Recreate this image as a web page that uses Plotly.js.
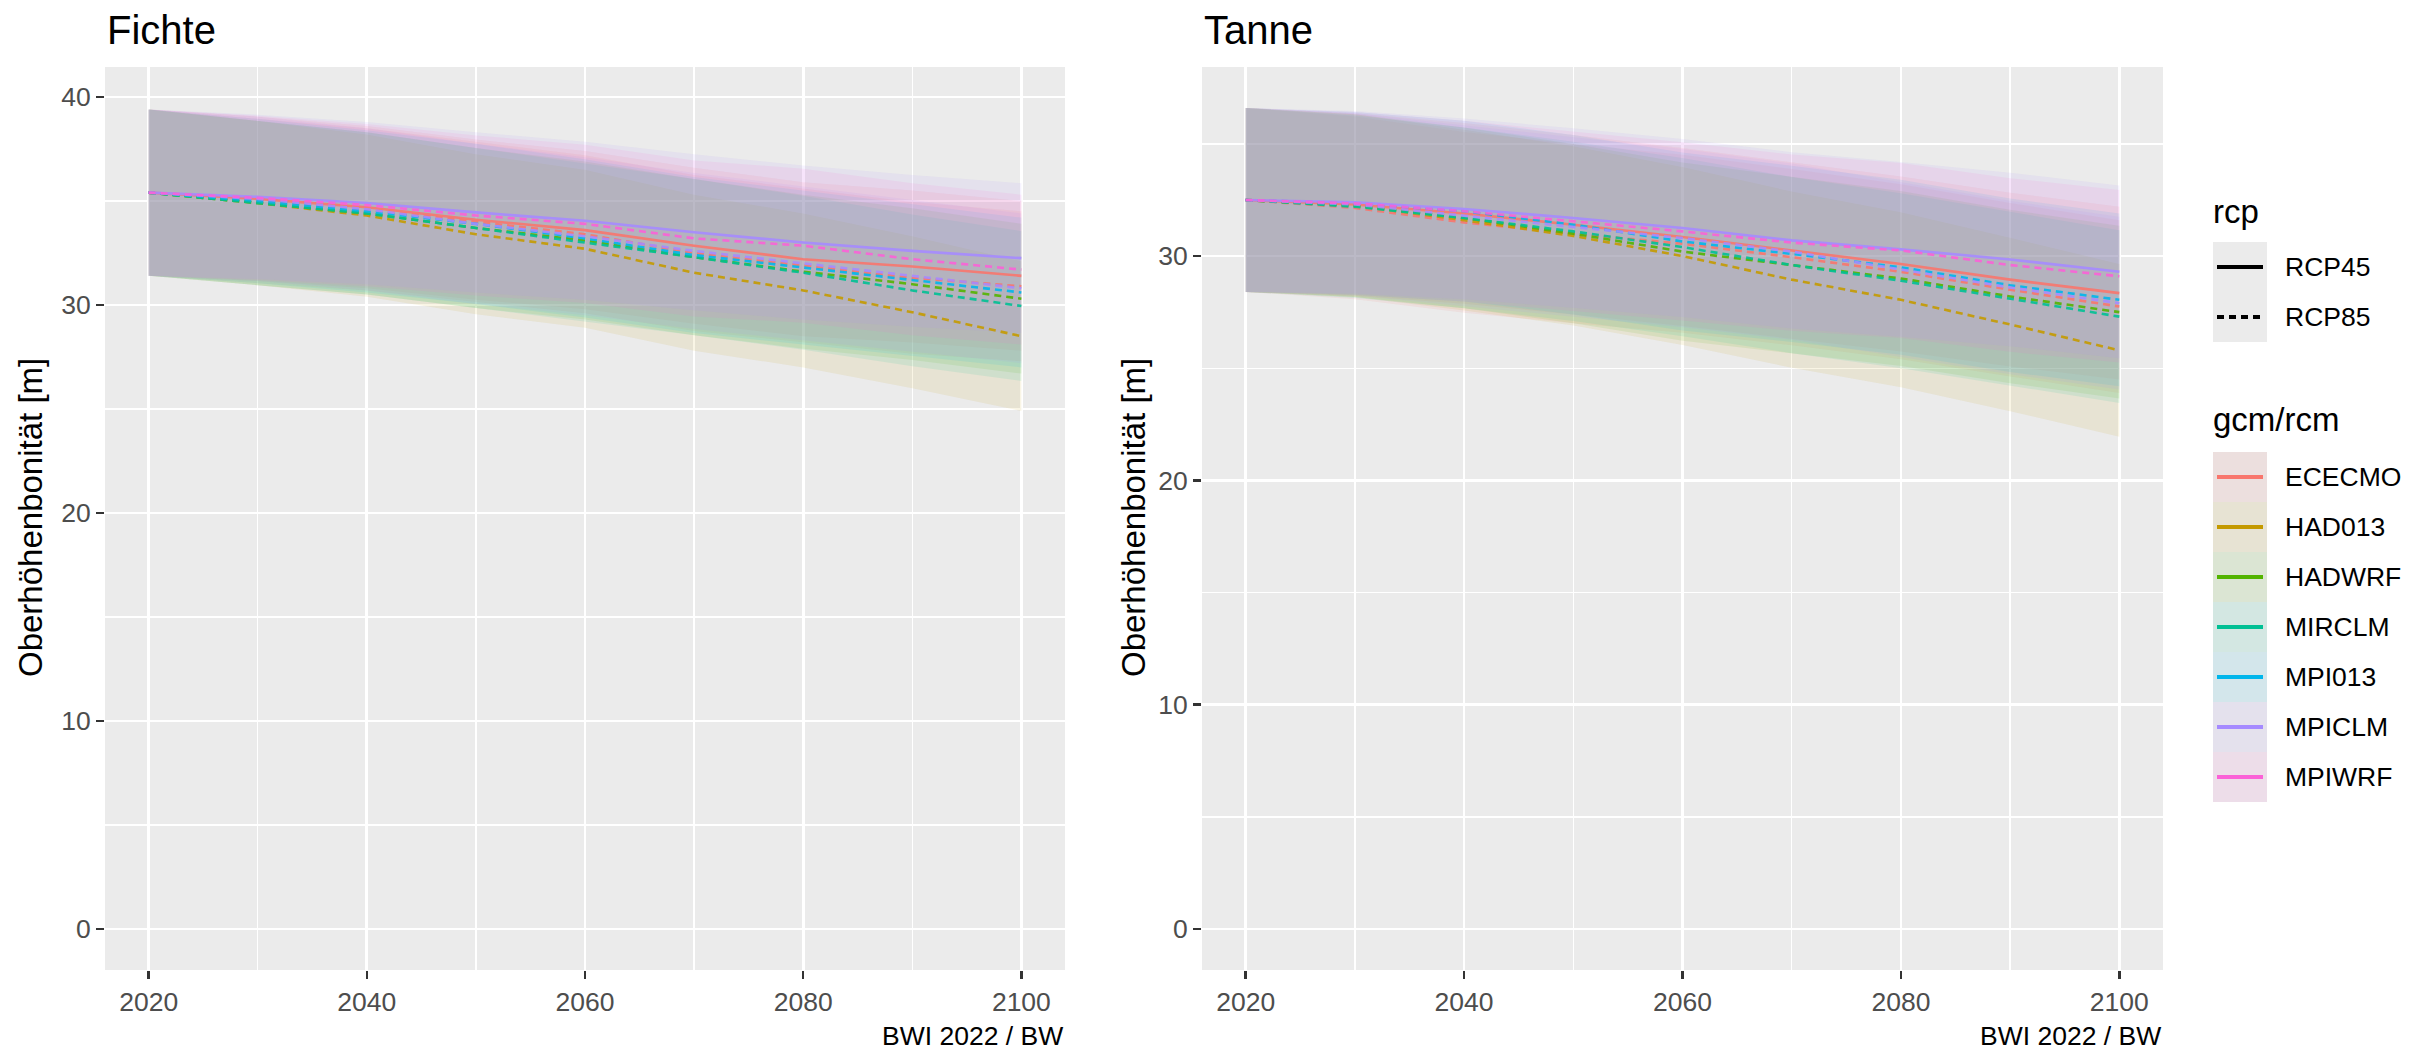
<!DOCTYPE html>
<html>
<head>
<meta charset="utf-8">
<script src="https://cdn.plot.ly/plotly-3.0.1.min.js"></script>
<style>html,body{margin:0;padding:0;background:#fff;}#chart{width:2420px;height:1052px;}</style>
</head>
<body>
<div id="chart"></div>
<script>
// ---------- DATA ----------
const years = [2020, 2030, 2040, 2050, 2060, 2070, 2080, 2090, 2100];
const panelTitles = ['Fichte', 'Tanne'];
const models = ['ECECMO', 'HAD013', 'HADWRF', 'MIRCLM', 'MPI013', 'MPICLM', 'MPIWRF'];
const modelColors = ['#F8766D', '#C49A00', '#53B400', '#00C094', '#00B6EB', '#A58AFF', '#FB61D7'];
const scenarios = ['RCP45', 'RCP85'];
const xTicks = [2020, 2040, 2060, 2080, 2100];
const yTicksFichte = [0, 10, 20, 30, 40];
const yTicksTanne = [0, 10, 20, 30];
const yTitle = 'Oberhöhenbonität [m]';
const caption = 'BWI 2022 / BW';

// Fichte
const fi_ECECMO_45_mean = [35.4, 35.1, 34.7, 34.1, 33.6, 32.85, 32.2, 31.85, 31.4];
const fi_ECECMO_45_hi   = [39.4, 39.05, 38.6, 37.95, 37.4, 36.6, 35.9, 35.5, 35.0];
const fi_ECECMO_45_lo   = [31.4, 31.15, 30.8, 30.25, 29.8, 29.1, 28.5, 28.2, 27.8];
const fi_ECECMO_85_mean = [35.4, 35.0, 34.6, 34.0, 33.4, 32.5, 31.9, 31.3, 30.9];
const fi_ECECMO_85_hi   = [39.4, 38.95, 38.5, 37.85, 37.2, 36.25, 35.6, 34.95, 34.5];
const fi_ECECMO_85_lo   = [31.4, 31.05, 30.7, 30.15, 29.6, 28.75, 28.2, 27.65, 27.3];
const fi_HAD013_85_mean = [35.4, 34.9, 34.3, 33.4, 32.7, 31.55, 30.7, 29.65, 28.5];
const fi_HAD013_85_hi   = [39.4, 38.85, 38.2, 37.25, 36.5, 35.3, 34.4, 33.3, 32.1];
const fi_HAD013_85_lo   = [31.4, 30.95, 30.4, 29.55, 28.9, 27.8, 27.0, 26.0, 24.9];
const fi_HADWRF_85_mean = [35.4, 34.9, 34.4, 33.7, 33.1, 32.3, 31.6, 31.0, 30.3];
const fi_HADWRF_85_hi   = [39.4, 38.85, 38.3, 37.55, 36.9, 36.05, 35.3, 34.65, 33.9];
const fi_HADWRF_85_lo   = [31.4, 30.95, 30.5, 29.85, 29.3, 28.55, 27.9, 27.35, 26.7];
const fi_MIRCLM_85_mean = [35.4, 34.9, 34.4, 33.7, 33.0, 32.3, 31.55, 30.7, 29.95];
const fi_MIRCLM_85_hi   = [39.4, 38.85, 38.3, 37.55, 36.8, 36.05, 35.25, 34.35, 33.55];
const fi_MIRCLM_85_lo   = [31.4, 30.95, 30.5, 29.85, 29.2, 28.55, 27.85, 27.05, 26.35];
const fi_MPI013_85_mean = [35.4, 35.0, 34.5, 33.9, 33.2, 32.4, 31.8, 31.2, 30.6];
const fi_MPI013_85_hi   = [39.4, 38.95, 38.4, 37.75, 37.0, 36.15, 35.5, 34.85, 34.2];
const fi_MPI013_85_lo   = [31.4, 31.05, 30.6, 30.05, 29.4, 28.65, 28.1, 27.55, 27.0];
const fi_MPICLM_45_mean = [35.4, 35.2, 34.9, 34.45, 34.05, 33.5, 33.0, 32.6, 32.25];
const fi_MPICLM_45_hi   = [39.4, 39.15, 38.8, 38.3, 37.85, 37.25, 36.7, 36.25, 35.85];
const fi_MPICLM_45_lo   = [31.4, 31.25, 31.0, 30.6, 30.25, 29.75, 29.3, 28.95, 28.65];
const fi_MPICLM_85_mean = [35.4, 35.1, 34.6, 33.9, 33.3, 32.6, 32.0, 31.4, 30.8];
const fi_MPICLM_85_hi   = [39.4, 39.05, 38.5, 37.75, 37.1, 36.35, 35.7, 35.05, 34.4];
const fi_MPICLM_85_lo   = [31.4, 31.15, 30.7, 30.05, 29.5, 28.85, 28.3, 27.75, 27.2];
const fi_MPIWRF_85_mean = [35.4, 35.15, 34.8, 34.3, 33.9, 33.2, 32.85, 32.2, 31.7];
const fi_MPIWRF_85_hi   = [39.4, 39.1, 38.7, 38.15, 37.7, 36.95, 36.55, 35.85, 35.3];
const fi_MPIWRF_85_lo   = [31.4, 31.2, 30.9, 30.45, 30.1, 29.45, 29.15, 28.55, 28.1];

// Tanne
const ta_ECECMO_45_mean = [32.5, 32.3, 31.9, 31.4, 30.85, 30.25, 29.65, 28.95, 28.35];
const ta_ECECMO_45_hi   = [36.6, 36.37, 35.93, 35.4, 34.82, 34.18, 33.55, 32.82, 32.2];
const ta_ECECMO_45_lo   = [28.4, 28.23, 27.87, 27.4, 26.88, 26.32, 25.75, 25.08, 24.5];
const ta_ECECMO_85_mean = [32.5, 32.15, 31.5, 31.0, 30.55, 29.95, 29.3, 28.5, 27.75];
const ta_ECECMO_85_hi   = [36.6, 36.22, 35.53, 35.0, 34.52, 33.88, 33.2, 32.37, 31.6];
const ta_ECECMO_85_lo   = [28.4, 28.08, 27.47, 27.0, 26.58, 26.02, 25.4, 24.63, 23.9];
const ta_HAD013_85_mean = [32.5, 32.25, 31.6, 30.9, 30.0, 28.95, 28.05, 26.95, 25.8];
const ta_HAD013_85_hi   = [36.6, 36.32, 35.63, 34.9, 33.97, 32.88, 31.95, 30.82, 29.65];
const ta_HAD013_85_lo   = [28.4, 28.18, 27.57, 26.9, 26.03, 25.02, 24.15, 23.08, 21.95];
const ta_HADWRF_85_mean = [32.5, 32.25, 31.7, 31.0, 30.2, 29.6, 29.0, 28.2, 27.5];
const ta_HADWRF_85_hi   = [36.6, 36.32, 35.73, 35.0, 34.17, 33.53, 32.9, 32.07, 31.35];
const ta_HADWRF_85_lo   = [28.4, 28.18, 27.67, 27.0, 26.23, 25.67, 25.1, 24.33, 23.65];
const ta_MIRCLM_85_mean = [32.5, 32.2, 31.7, 31.1, 30.4, 29.6, 28.9, 28.1, 27.3];
const ta_MIRCLM_85_hi   = [36.6, 36.27, 35.73, 35.1, 34.37, 33.53, 32.8, 31.97, 31.15];
const ta_MIRCLM_85_lo   = [28.4, 28.13, 27.67, 27.1, 26.43, 25.67, 25.0, 24.23, 23.45];
const ta_MPI013_85_mean = [32.5, 32.35, 32.0, 31.4, 30.65, 30.1, 29.5, 28.7, 28.05];
const ta_MPI013_85_hi   = [36.6, 36.42, 36.03, 35.4, 34.62, 34.03, 33.4, 32.57, 31.9];
const ta_MPI013_85_lo   = [28.4, 28.28, 27.97, 27.4, 26.68, 26.17, 25.6, 24.83, 24.2];
const ta_MPICLM_45_mean = [32.5, 32.4, 32.1, 31.7, 31.25, 30.7, 30.3, 29.85, 29.3];
const ta_MPICLM_45_hi   = [36.6, 36.47, 36.13, 35.7, 35.22, 34.63, 34.2, 33.72, 33.15];
const ta_MPICLM_45_lo   = [28.4, 28.33, 28.07, 27.7, 27.28, 26.77, 26.4, 25.98, 25.45];
const ta_MPICLM_85_mean = [32.5, 32.3, 31.8, 31.3, 30.8, 30.2, 29.4, 28.6, 27.9];
const ta_MPICLM_85_hi   = [36.6, 36.37, 35.83, 35.3, 34.77, 34.13, 33.3, 32.47, 31.75];
const ta_MPICLM_85_lo   = [28.4, 28.23, 27.77, 27.3, 26.83, 26.27, 25.5, 24.73, 24.05];
const ta_MPIWRF_85_mean = [32.5, 32.35, 32.0, 31.55, 31.1, 30.6, 30.25, 29.6, 29.1];
const ta_MPIWRF_85_hi   = [36.6, 36.42, 36.03, 35.55, 35.07, 34.53, 34.15, 33.47, 32.95];
const ta_MPIWRF_85_lo   = [28.4, 28.28, 27.97, 27.55, 27.13, 26.67, 26.35, 25.73, 25.25];

// ---------- series tables built from the arrays ----------
const fichteSeries = [
  ['ECECMO','RCP45', fi_ECECMO_45_mean, fi_ECECMO_45_lo, fi_ECECMO_45_hi],
  ['ECECMO','RCP85', fi_ECECMO_85_mean, fi_ECECMO_85_lo, fi_ECECMO_85_hi],
  ['HAD013','RCP85', fi_HAD013_85_mean, fi_HAD013_85_lo, fi_HAD013_85_hi],
  ['HADWRF','RCP85', fi_HADWRF_85_mean, fi_HADWRF_85_lo, fi_HADWRF_85_hi],
  ['MIRCLM','RCP85', fi_MIRCLM_85_mean, fi_MIRCLM_85_lo, fi_MIRCLM_85_hi],
  ['MPI013','RCP85', fi_MPI013_85_mean, fi_MPI013_85_lo, fi_MPI013_85_hi],
  ['MPICLM','RCP45', fi_MPICLM_45_mean, fi_MPICLM_45_lo, fi_MPICLM_45_hi],
  ['MPICLM','RCP85', fi_MPICLM_85_mean, fi_MPICLM_85_lo, fi_MPICLM_85_hi],
  ['MPIWRF','RCP85', fi_MPIWRF_85_mean, fi_MPIWRF_85_lo, fi_MPIWRF_85_hi]
];
const tanneSeries = [
  ['ECECMO','RCP45', ta_ECECMO_45_mean, ta_ECECMO_45_lo, ta_ECECMO_45_hi],
  ['ECECMO','RCP85', ta_ECECMO_85_mean, ta_ECECMO_85_lo, ta_ECECMO_85_hi],
  ['HAD013','RCP85', ta_HAD013_85_mean, ta_HAD013_85_lo, ta_HAD013_85_hi],
  ['HADWRF','RCP85', ta_HADWRF_85_mean, ta_HADWRF_85_lo, ta_HADWRF_85_hi],
  ['MIRCLM','RCP85', ta_MIRCLM_85_mean, ta_MIRCLM_85_lo, ta_MIRCLM_85_hi],
  ['MPI013','RCP85', ta_MPI013_85_mean, ta_MPI013_85_lo, ta_MPI013_85_hi],
  ['MPICLM','RCP45', ta_MPICLM_45_mean, ta_MPICLM_45_lo, ta_MPICLM_45_hi],
  ['MPICLM','RCP85', ta_MPICLM_85_mean, ta_MPICLM_85_lo, ta_MPICLM_85_hi],
  ['MPIWRF','RCP85', ta_MPIWRF_85_mean, ta_MPIWRF_85_lo, ta_MPIWRF_85_hi]
];

// ---------- helpers ----------
const W = 2420, H = 1052;
const FONT = '"Liberation Sans", Arial, Helvetica, sans-serif';
const RIBBON_ALPHA = 0.1;
function px(x) { return x / W; }
function py(y) { return 1 - y / H; }
function rgba(hex, a) {
  const n = parseInt(hex.slice(1), 16);
  return 'rgba(' + ((n >> 16) & 255) + ',' + ((n >> 8) & 255) + ',' + (n & 255) + ',' + a + ')';
}
function colorOf(m) { return modelColors[models.indexOf(m)]; }
const DASH = '7px,5px';

const traces = [];
function addPanel(series, xa, ya) {
  series.forEach(s => {
    const [m, rcp, mean, lo, hi] = s;
    traces.push({
      type: 'scatter', mode: 'lines', xaxis: xa, yaxis: ya,
      x: years.concat(years.slice().reverse()),
      y: hi.concat(lo.slice().reverse()),
      fill: 'toself', fillcolor: rgba(colorOf(m), RIBBON_ALPHA),
      line: { width: 0, color: 'rgba(0,0,0,0)' },
      hoverinfo: 'skip', showlegend: false
    });
  });
  series.forEach(s => {
    const [m, rcp, mean] = s;
    traces.push({
      type: 'scatter', mode: 'lines', xaxis: xa, yaxis: ya,
      x: years, y: mean, name: m + ' ' + rcp,
      opacity: 0.9,
      line: { color: colorOf(m), width: 2.6, dash: rcp === 'RCP45' ? 'solid' : DASH },
      showlegend: false
    });
  });
}
addPanel(fichteSeries, 'x', 'y');
addPanel(tanneSeries, 'x2', 'y2');

// ---------- axes ----------
const tickFont = { family: FONT, size: 26.5, color: '#4D4D4D' };
function xAxis(domain, anchor) {
  return {
    domain: domain, anchor: anchor, range: [2016, 2104],
    tickmode: 'array', tickvals: xTicks, ticktext: xTicks.map(String),
    ticks: 'outside', ticklen: 8, tickwidth: 2.5, tickcolor: '#333333',
    tickfont: tickFont, showgrid: true, gridcolor: '#FFFFFF', gridwidth: 2.8,
    minor: { tickvals: [2030, 2050, 2070, 2090], showgrid: true, gridcolor: '#FFFFFF', gridwidth: 1.4, ticks: '' },
    zeroline: false, showline: false, fixedrange: true
  };
}
function yAxis(domain, anchor, range, ticks, minorVals) {
  return {
    domain: domain, anchor: anchor, range: range,
    tickmode: 'array', tickvals: ticks, ticktext: ticks.map(String),
    ticks: 'outside', ticklen: 8, tickwidth: 2.5, tickcolor: '#333333',
    tickfont: tickFont, showgrid: true, gridcolor: '#FFFFFF', gridwidth: 2.8,
    minor: { tickvals: minorVals, showgrid: true, gridcolor: '#FFFFFF', gridwidth: 1.4, ticks: '' },
    zeroline: false, showline: false, fixedrange: true
  };
}
const yDom = [py(970), py(67)];

// ---------- titles, captions, legend ----------
const annotations = [];
const shapes = [];
const panelLeft = [105, 1202];
const panelRight = [1065, 2163];
panelTitles.forEach((t, i) => {
  annotations.push({ text: t, xref: 'paper', yref: 'paper', x: px(panelLeft[i]), y: py(30),
    xanchor: 'left', yanchor: 'middle', showarrow: false, font: { family: FONT, size: 40, color: '#000' } });
  annotations.push({ text: caption, xref: 'paper', yref: 'paper', x: px(panelRight[i]), y: py(1036),
    xanchor: 'right', yanchor: 'middle', showarrow: false, font: { family: FONT, size: 26.5, color: '#000' } });
});
[31, 1134].forEach(xc => {
  annotations.push({ text: yTitle, xref: 'paper', yref: 'paper', x: px(xc), y: py(518),
    xanchor: 'center', yanchor: 'middle', textangle: -90, showarrow: false,
    font: { family: FONT, size: 33, color: '#000' } });
});

// legend: rcp
const LX0 = 2213, LX1 = 2267, LTX = 2283;
annotations.push({ text: 'rcp', xref: 'paper', yref: 'paper', x: px(LX0 - 2), y: py(211),
  xanchor: 'left', yanchor: 'middle', showarrow: false, font: { family: FONT, size: 33, color: '#000' } });
scenarios.forEach((s, i) => {
  const y0 = 242 + 50 * i, yc = y0 + 25;
  shapes.push({ type: 'rect', xref: 'paper', yref: 'paper', x0: px(LX0), x1: px(LX1), y0: py(y0), y1: py(y0 + 50),
    fillcolor: '#EBEBEB', line: { width: 0 }, layer: 'below' });
  shapes.push({ type: 'line', xref: 'paper', yref: 'paper', x0: px(LX0 + 4), x1: px(LX1 - 4), y0: py(yc), y1: py(yc),
    line: { color: '#000', width: 4, dash: i === 0 ? 'solid' : DASH } });
  annotations.push({ text: s, xref: 'paper', yref: 'paper', x: px(LTX), y: py(yc),
    xanchor: 'left', yanchor: 'middle', showarrow: false, font: { family: FONT, size: 26.5, color: '#000' } });
});
// legend: gcm/rcm
annotations.push({ text: 'gcm/rcm', xref: 'paper', yref: 'paper', x: px(LX0 - 2), y: py(420),
  xanchor: 'left', yanchor: 'middle', showarrow: false, font: { family: FONT, size: 33, color: '#000' } });
models.forEach((m, i) => {
  const y0 = 452 + 50 * i, yc = y0 + 25;
  shapes.push({ type: 'rect', xref: 'paper', yref: 'paper', x0: px(LX0), x1: px(LX1), y0: py(y0), y1: py(y0 + 50),
    fillcolor: '#EBEBEB', line: { width: 0 } });
  shapes.push({ type: 'rect', xref: 'paper', yref: 'paper', x0: px(LX0), x1: px(LX1), y0: py(y0), y1: py(y0 + 50),
    fillcolor: rgba(modelColors[i], RIBBON_ALPHA), line: { width: 0 } });
  shapes.push({ type: 'line', xref: 'paper', yref: 'paper', x0: px(LX0 + 4), x1: px(LX1 - 4), y0: py(yc), y1: py(yc),
    line: { color: modelColors[i], width: 4 } });
  annotations.push({ text: m, xref: 'paper', yref: 'paper', x: px(LTX), y: py(yc),
    xanchor: 'left', yanchor: 'middle', showarrow: false, font: { family: FONT, size: 26.5, color: '#000' } });
});

const layout = {
  width: W, height: H,
  margin: { l: 0, r: 0, t: 0, b: 0, pad: 0 },
  paper_bgcolor: '#FFFFFF', plot_bgcolor: '#EBEBEB',
  font: { family: FONT },
  showlegend: false,
  xaxis: xAxis([px(105), px(1065)], 'y'),
  yaxis: yAxis(yDom, 'x', [-1.97, 41.44], yTicksFichte, [5, 15, 25, 35]),
  xaxis2: xAxis([px(1202), px(2163)], 'y2'),
  yaxis2: yAxis(yDom, 'x2', [-1.83, 38.43], yTicksTanne, [5, 15, 25, 35]),
  annotations: annotations,
  shapes: shapes
};

Plotly.newPlot('chart', traces, layout, { displayModeBar: false, staticPlot: true });
</script>
</body>
</html>
